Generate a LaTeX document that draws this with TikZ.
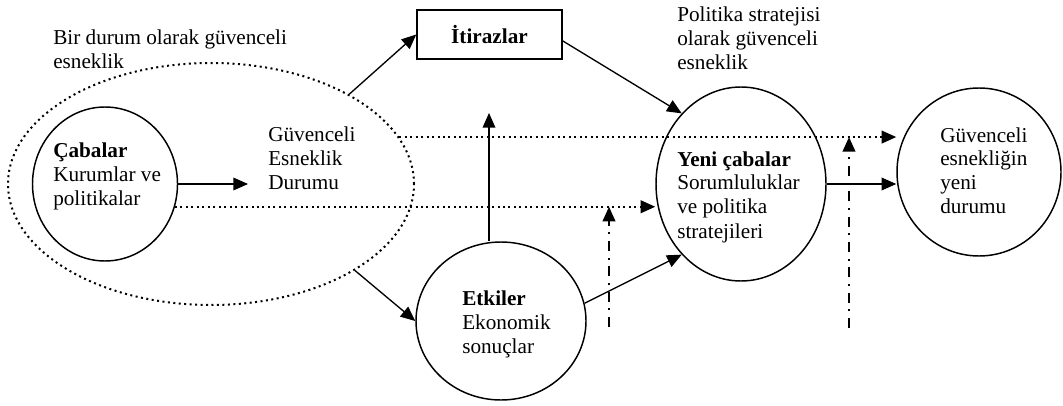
\documentclass[tikz,border=0pt]{standalone}
\usepackage{fontspec}
\setmainfont{Liberation Serif}
\usetikzlibrary{shapes.geometric,arrows.meta}
\begin{document}
\begin{tikzpicture} [x = 0.75pt, y = -0.75pt,
    blob/.style = {draw, ellipse, line width = 1.1pt, inner sep = 0pt},
    lbl/.style = {anchor = base west, align = left, inner sep = 0pt,
      font = \fontsize{15.9pt}{18pt}\selectfont},
    arr/.style = {line width = 1pt, -{Triangle[length = 11pt, width = 9.5pt]}},
    dots/.style = {arr, line width = 1.5pt, dash pattern = on 1.5pt off 2.6pt},
    dashdot/.style = {arr, line width = 1.5pt,
      dash pattern = on 7.5pt off 5pt on 1.5pt off 5pt}]
    \useasboundingbox (0,0) rectangle (1063,406);
    % the situation and its parts
    \node [blob, line width = 1.5pt, dash pattern = on 1.5pt off 2.6pt,
      minimum width = 304.5pt, minimum height = 181.5pt] (sit) at (211,184) {};
    \node [blob, minimum width = 108.75pt, minimum height = 115.5pt] (cab) at (105,184) {};
    \node [blob, minimum width = 127.5pt, minimum height = 118.5pt] (etk) at (501,321) {};
    \node [blob, minimum width = 127.5pt, minimum height = 145.5pt] (yeni) at (741,184) {};
    \node [blob, minimum width = 123pt, minimum height = 126pt] (guv) at (979,172) {};
    \node [draw, line width = 1.1pt, minimum width = 108.75pt, minimum height = 36.75pt,
      font = \fontsize{15.9pt}{18pt}\selectfont\bfseries] (itiraz) at (489.5,34.5) {İtirazlar};
    % texts (placed at the baseline of their last line)
    \node [lbl] (sitlbl) at (53,69) {Bir durum olarak güvenceli\\esneklik};
    \node [lbl] (pollbl) at (677,70) {Politika stratejisi\\olarak güvenceli\\esneklik};
    \node [lbl] (cabtxt) at (53,205) {\textbf{Çabalar}\\Kurumlar ve\\politikalar};
    \node [lbl] (durtxt) at (268,190) {Güvenceli\\Esneklik\\Durumu};
    \node [lbl] (etktxt) at (462,353) {\textbf{Etkiler}\\Ekonomik\\sonuçlar};
    \node [lbl] (yenitxt) at (677,238) {\textbf{Yeni çabalar}\\Sorumluluklar\\ve politika\\stratejileri};
    \node [lbl] (guvtxt) at (940,214) {Güvenceli\\esnekliğin\\yeni\\durumu};
    \coordinate (durin) at (248,184);
    \coordinate (etkup) at (489,113);
    \coordinate (pol1) at (609,327);
    \coordinate (pol2) at (849,328);
    % arrows
    \draw [arr] (cab.east) -- (durin);
    \draw [dots] (cab.-18) -- (cab.-18 -| yeni.west);
    \draw [dots] (sit.14) -- (sit.14 -| guv.west);
    \draw [arr] (sit.33) -- (itiraz.west);
    \draw [arr] (itiraz.-5) -- (yeni.130);
    \draw [arr] (sit.-31) -- (etk.west);
    \draw [arr] (etk.12) -- (yeni.230);
    \draw [arr] (etkup |- etk.north) -- (etkup);
    \draw [arr] (yeni.east) -- (yeni.east -| guv.west);
    \draw [dashdot] (pol1) -- (pol1 |- cab.-18);
    \draw [dashdot] (pol2) -- (pol2 |- sit.14);
  \end{tikzpicture}
\end{document}
